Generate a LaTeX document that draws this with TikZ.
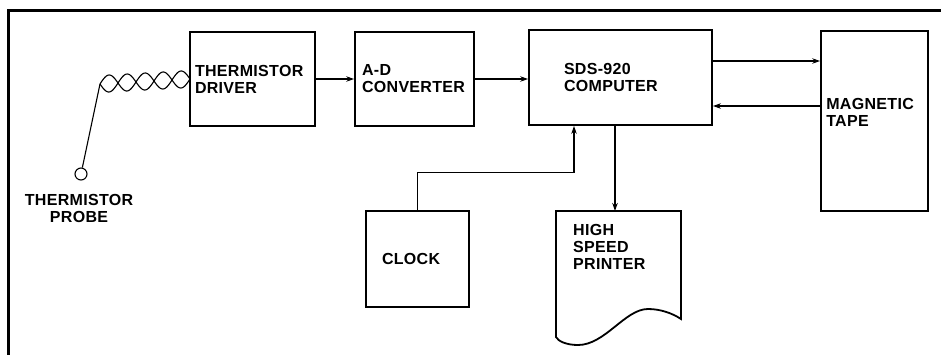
\documentclass[tikz,border=0pt]{standalone}
\usepackage{fontspec}
\setmainfont[LetterSpace=2]{Liberation Sans}
\usetikzlibrary{arrows.meta,positioning}

\begin{document}
\begin{tikzpicture}[
  x=1pt, y=-1pt,
  font=\fontsize{16}{17}\selectfont\bfseries,
  >={Stealth[length=8pt,width=5.5pt]},
  outline/.style={line width=1.8pt, line join=miter},
  unit/.style={
    draw,
    outline,
    align=left,
    inner sep=0pt
  },
  link/.style={
    ->,
    line width=1.2pt
  },
  wire/.style={line width=1.1pt},
  frame/.style={line width=3pt},
  tag/.style={align=left, inner sep=0pt}
]
\useasboundingbox (0,0) rectangle (941,354);

% Border of the figure (only top and left show)
\draw[frame] (8,358) -- (8,10) -- (945,10);

% Processing chain
\node[unit, minimum width=125pt, minimum height=94pt, text width=115pt]
  (driver) at (252.5,79) {THERMISTOR\\DRIVER};
\node[unit, minimum width=119pt, minimum height=94pt, text width=105pt]
  (conv) at (414.5,79) {A-D\\CONVERTER};
\node[unit, minimum width=183pt, minimum height=95pt, text width=113pt]
  (computer) at (620.5,77.5) {SDS-920\\COMPUTER};
\node[unit, minimum width=107pt, minimum height=180pt] (tape) at (874.5,121) {};
\node[tag, anchor=west] (tapeText) at ([xshift=6pt,yshift=9pt]tape.west)
  {MAGNETIC\\TAPE};
\node[unit, minimum width=103pt, minimum height=96pt, text width=71pt]
  (clock) at (417.5,259) {CLOCK};

% Printer sheet with torn lower edge
\coordinate (prtNW) at (556,211);
\coordinate (prtNE) at (681,211);
\coordinate (prtIn) at (615,211);
\draw[outline] (prtNW) -- (prtNE) -- (681,319)
  .. controls (672,313) and (660,309) .. (648,309)
  .. controls (625,309) and (605,345) .. (578,345)
  .. controls (566,345) and (558,341) .. (556,337) -- cycle;
\node[tag, anchor=north west] (printerText) at (573,224)
  {HIGH\\SPEED\\PRINTER};

% Probe and twisted lead
\node[draw, circle, wire, minimum size=12pt, inner sep=0pt] (probe) at (81,174) {};
\node[tag, align=center, below=14pt of probe, xshift=-2pt] (probeText)
  {THERMISTOR\\PROBE};
\coordinate (pairStart) at (100,84);
\draw[wire] (probe) -- (pairStart);
\foreach \s in {1,-1}
  \draw[wire] plot[domain=0:1, samples=90, smooth]
    ({100+90*\x}, {84-5*\x+\s*8.5*sin(900*\x)});

% Signal flow
\draw[link] (driver.east) -- (conv.west);
\draw[link] (conv.east) -- (conv.east -| computer.west);
\draw[link] ([yshift=16.5pt]computer.east) -- ([yshift=16.5pt]computer.east -| tape.west);
\draw[link] ([yshift=-28.5pt]computer.east -| tape.west) -- ([yshift=-28.5pt]computer.east);
\draw[link] (computer.south -| prtIn) -- (prtIn);
\draw[link] (clock.north) -- ++(0,-38) -| ([xshift=-46.5pt]computer.south);

\end{tikzpicture}
\end{document}
